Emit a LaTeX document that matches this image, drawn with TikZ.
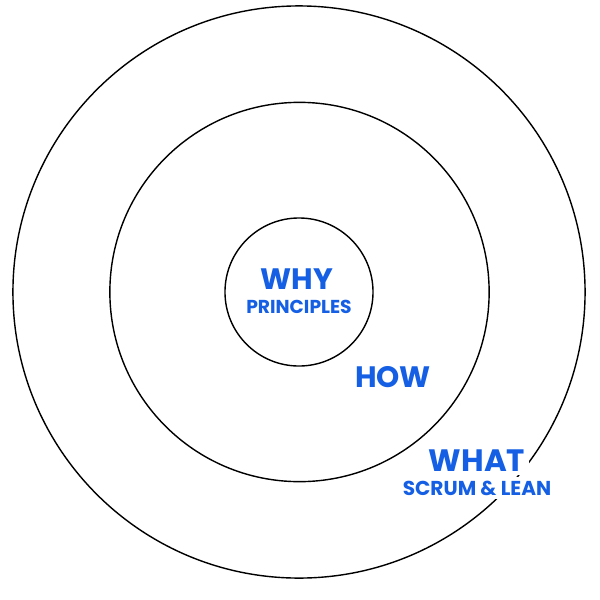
\documentclass[tikz,border=0pt]{standalone}
\usepackage{fontspec}
\setmainfont{Poppins}
\definecolor{circleblue}{RGB}{20,95,228}
\tikzset{
    ring/.style={draw=black, line width=1pt},
    bigword/.style={text=circleblue, font=\bfseries\fontsize{21}{23}\selectfont, fill=white, inner sep=2.5pt},
    smallword/.style={text=circleblue, font=\bfseries\fontsize{13.3}{15}\selectfont, fill=white, inner sep=2.5pt}
}
\begin{document}
\begin{tikzpicture}[x=0.025cm, y=-0.025cm]
        \useasboundingbox (0, 0) rectangle (600, 600);
        \draw[ring] (299, 292) circle[radius=7.15cm];
        \draw[ring] (299.5, 292) circle[radius=4.74cm];
        \draw[ring] (299, 292) circle[radius=1.85cm];
        \node[bigword] (why) at (297, 279) {WHY};
        \node[smallword] (principles) at (299, 307) {PRINCIPLES};
        \node[bigword] (how) at (393, 377) {HOW};
        \node[bigword, font=\bfseries\fontsize{22}{24}\selectfont] (what) at (477, 461) {WHAT};
        \node[smallword, font=\bfseries\fontsize{14.3}{16}\selectfont] (scrum) at (477, 488) {SCRUM \& LEAN};
    \end{tikzpicture}
\end{document}
